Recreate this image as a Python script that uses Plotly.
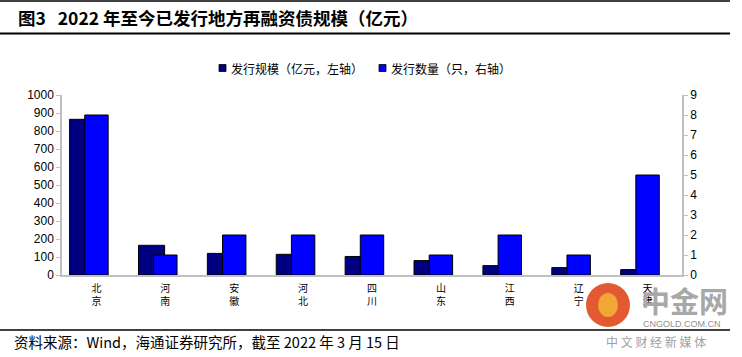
import plotly.graph_objects as go

# ---- data ----
provinces = ["北京", "河南", "安徽", "河北", "四川", "山东", "江西", "辽宁", "天津"]
issue_amount = [865, 165, 120, 115, 103, 80, 52, 41, 30]   # 亿元, left axis
issue_count = [8, 1, 2, 2, 2, 1, 2, 1, 5]                  # 只, right axis
left_ticks = list(range(0, 1001, 100))
right_ticks = list(range(0, 10))
series_names = ["发行规模（亿元，左轴）", "发行数量（只，右轴）"]
title_text = "图3\u00a0\u00a0\u00a02022 年至今已发行地方再融资债规模（亿元）"
source_text = "资料来源：Wind，海通证券研究所，截至 2022 年 3 月 15 日"

W, H = 742, 357
L, R, T, B = 62, 60, 95, 82
PW, PH = W - L - R, H - T - B

def px(x):
    return (x - L) / PW

def py(y):
    return (H - B - y) / PH

CJK = "Noto Sans CJK SC"
LAT = "Liberation Sans"
DARK = "#000080"
BLUE = "#0000FF"
GRAY = "#c0c0c0"

cat_labels = ["<br>".join(p) for p in provinces]

fig = go.Figure()
fig.add_trace(go.Bar(
    x=provinces, y=issue_amount, name=series_names[0], yaxis="y",
    marker=dict(color=DARK, line=dict(color="black", width=1)),
    width=0.38, offset=-0.39, showlegend=False))
fig.add_trace(go.Bar(
    x=provinces, y=issue_count, name=series_names[1], yaxis="y2",
    marker=dict(color=BLUE, line=dict(color="black", width=1)),
    width=0.34, offset=-0.17, showlegend=False))

shapes = [
    dict(type="line", xref="paper", yref="paper", x0=px(0), x1=px(730), y0=py(1), y1=py(1),
         line=dict(color="black", width=1.5)),
    dict(type="line", xref="paper", yref="paper", x0=px(0), x1=px(730), y0=py(33.5), y1=py(33.5),
         line=dict(color="black", width=2)),
    dict(type="line", xref="paper", yref="paper", x0=px(0), x1=px(730), y0=py(330), y1=py(330),
         line=dict(color="black", width=1.5)),
    # legend swatches
    dict(type="rect", xref="paper", yref="paper", x0=px(219), x1=px(226), y0=py(71.5), y1=py(64.5),
         fillcolor=DARK, line=dict(color="black", width=0.8)),
    dict(type="rect", xref="paper", yref="paper", x0=px(379), x1=px(386), y0=py(71.5), y1=py(64.5),
         fillcolor=BLUE, line=dict(color="black", width=0.8)),
    # watermark logo circle
    dict(type="circle", xref="paper", yref="paper", x0=px(586), x1=px(630), y0=py(283), y1=py(327),
         fillcolor="#e0481c", line=dict(width=0), opacity=0.9),
    dict(type="circle", xref="paper", yref="paper", x0=px(598), x1=px(618), y0=py(293), y1=py(317),
         fillcolor="#f5b436", line=dict(width=0), opacity=0.85),
]

annotations = [
    dict(text="<b>" + title_text + "</b>", xref="paper", yref="paper", x=px(16), y=py(17),
         xanchor="left", yanchor="middle", showarrow=False,
         font=dict(family=CJK, size=17.5, color="black")),
    dict(text=series_names[0], xref="paper", yref="paper", x=px(229), y=py(68),
         xanchor="left", yanchor="middle", showarrow=False,
         font=dict(family=CJK, size=12, color="black")),
    dict(text=series_names[1], xref="paper", yref="paper", x=px(389), y=py(68),
         xanchor="left", yanchor="middle", showarrow=False,
         font=dict(family=CJK, size=12, color="black")),
    dict(text=source_text, xref="paper", yref="paper", x=px(12), y=py(341),
         xanchor="left", yanchor="middle", showarrow=False,
         font=dict(family=CJK, size=14.5, color="black")),
    # watermark texts
    dict(text="<b>中金网</b>", xref="paper", yref="paper", x=px(684), y=py(300),
         xanchor="center", yanchor="middle", showarrow=False,
         font=dict(family=CJK, size=29, color="#a8a8a8")),
    dict(text="CNGOLD.COM.CN", xref="paper", yref="paper", x=px(682), y=py(324),
         xanchor="center", yanchor="middle", showarrow=False,
         font=dict(family=LAT, size=9, color="#909090")),
    dict(text="中 文 财 经 新 媒 体", xref="paper", yref="paper", x=px(656), y=py(341),
         xanchor="center", yanchor="middle", showarrow=False,
         font=dict(family=CJK, size=12, color="#a0a0a0")),
]

fig.update_layout(
    width=W, height=H,
    margin=dict(l=L, r=R, t=T, b=B),
    paper_bgcolor="white", plot_bgcolor="white",
    barmode="overlay",
    shapes=shapes, annotations=annotations,
    xaxis=dict(
        tickmode="array", tickvals=provinces, ticktext=cat_labels,
        range=[-0.5, len(provinces) - 0.5],
        showline=True, linecolor=GRAY, linewidth=1.5,
        ticks="outside", ticklen=3, tickcolor="rgba(0,0,0,0)", showgrid=False,
        tickfont=dict(family=CJK, size=10, color="black"),
    ),
    yaxis=dict(
        range=[0, 1000], tickmode="array", tickvals=left_ticks,
        ticks="outside", ticklen=4, tickcolor=GRAY, tickwidth=1,
        showline=True, linecolor=GRAY, linewidth=1.5, showgrid=False, zeroline=False,
        tickfont=dict(family=LAT, size=12, color="black"),
    ),
    yaxis2=dict(
        overlaying="y", side="right",
        range=[0, 9], tickmode="array", tickvals=right_ticks,
        ticks="outside", ticklen=4, tickcolor=GRAY, tickwidth=1,
        showline=True, linecolor=GRAY, linewidth=1.5, showgrid=False, zeroline=False,
        tickfont=dict(family=LAT, size=12, color="black"),
    ),
)

fig.write_html(
    "out.html",
    config={"displayModeBar": False},
    post_script="document.body.style.margin='0';document.body.style.padding='0';",
)
